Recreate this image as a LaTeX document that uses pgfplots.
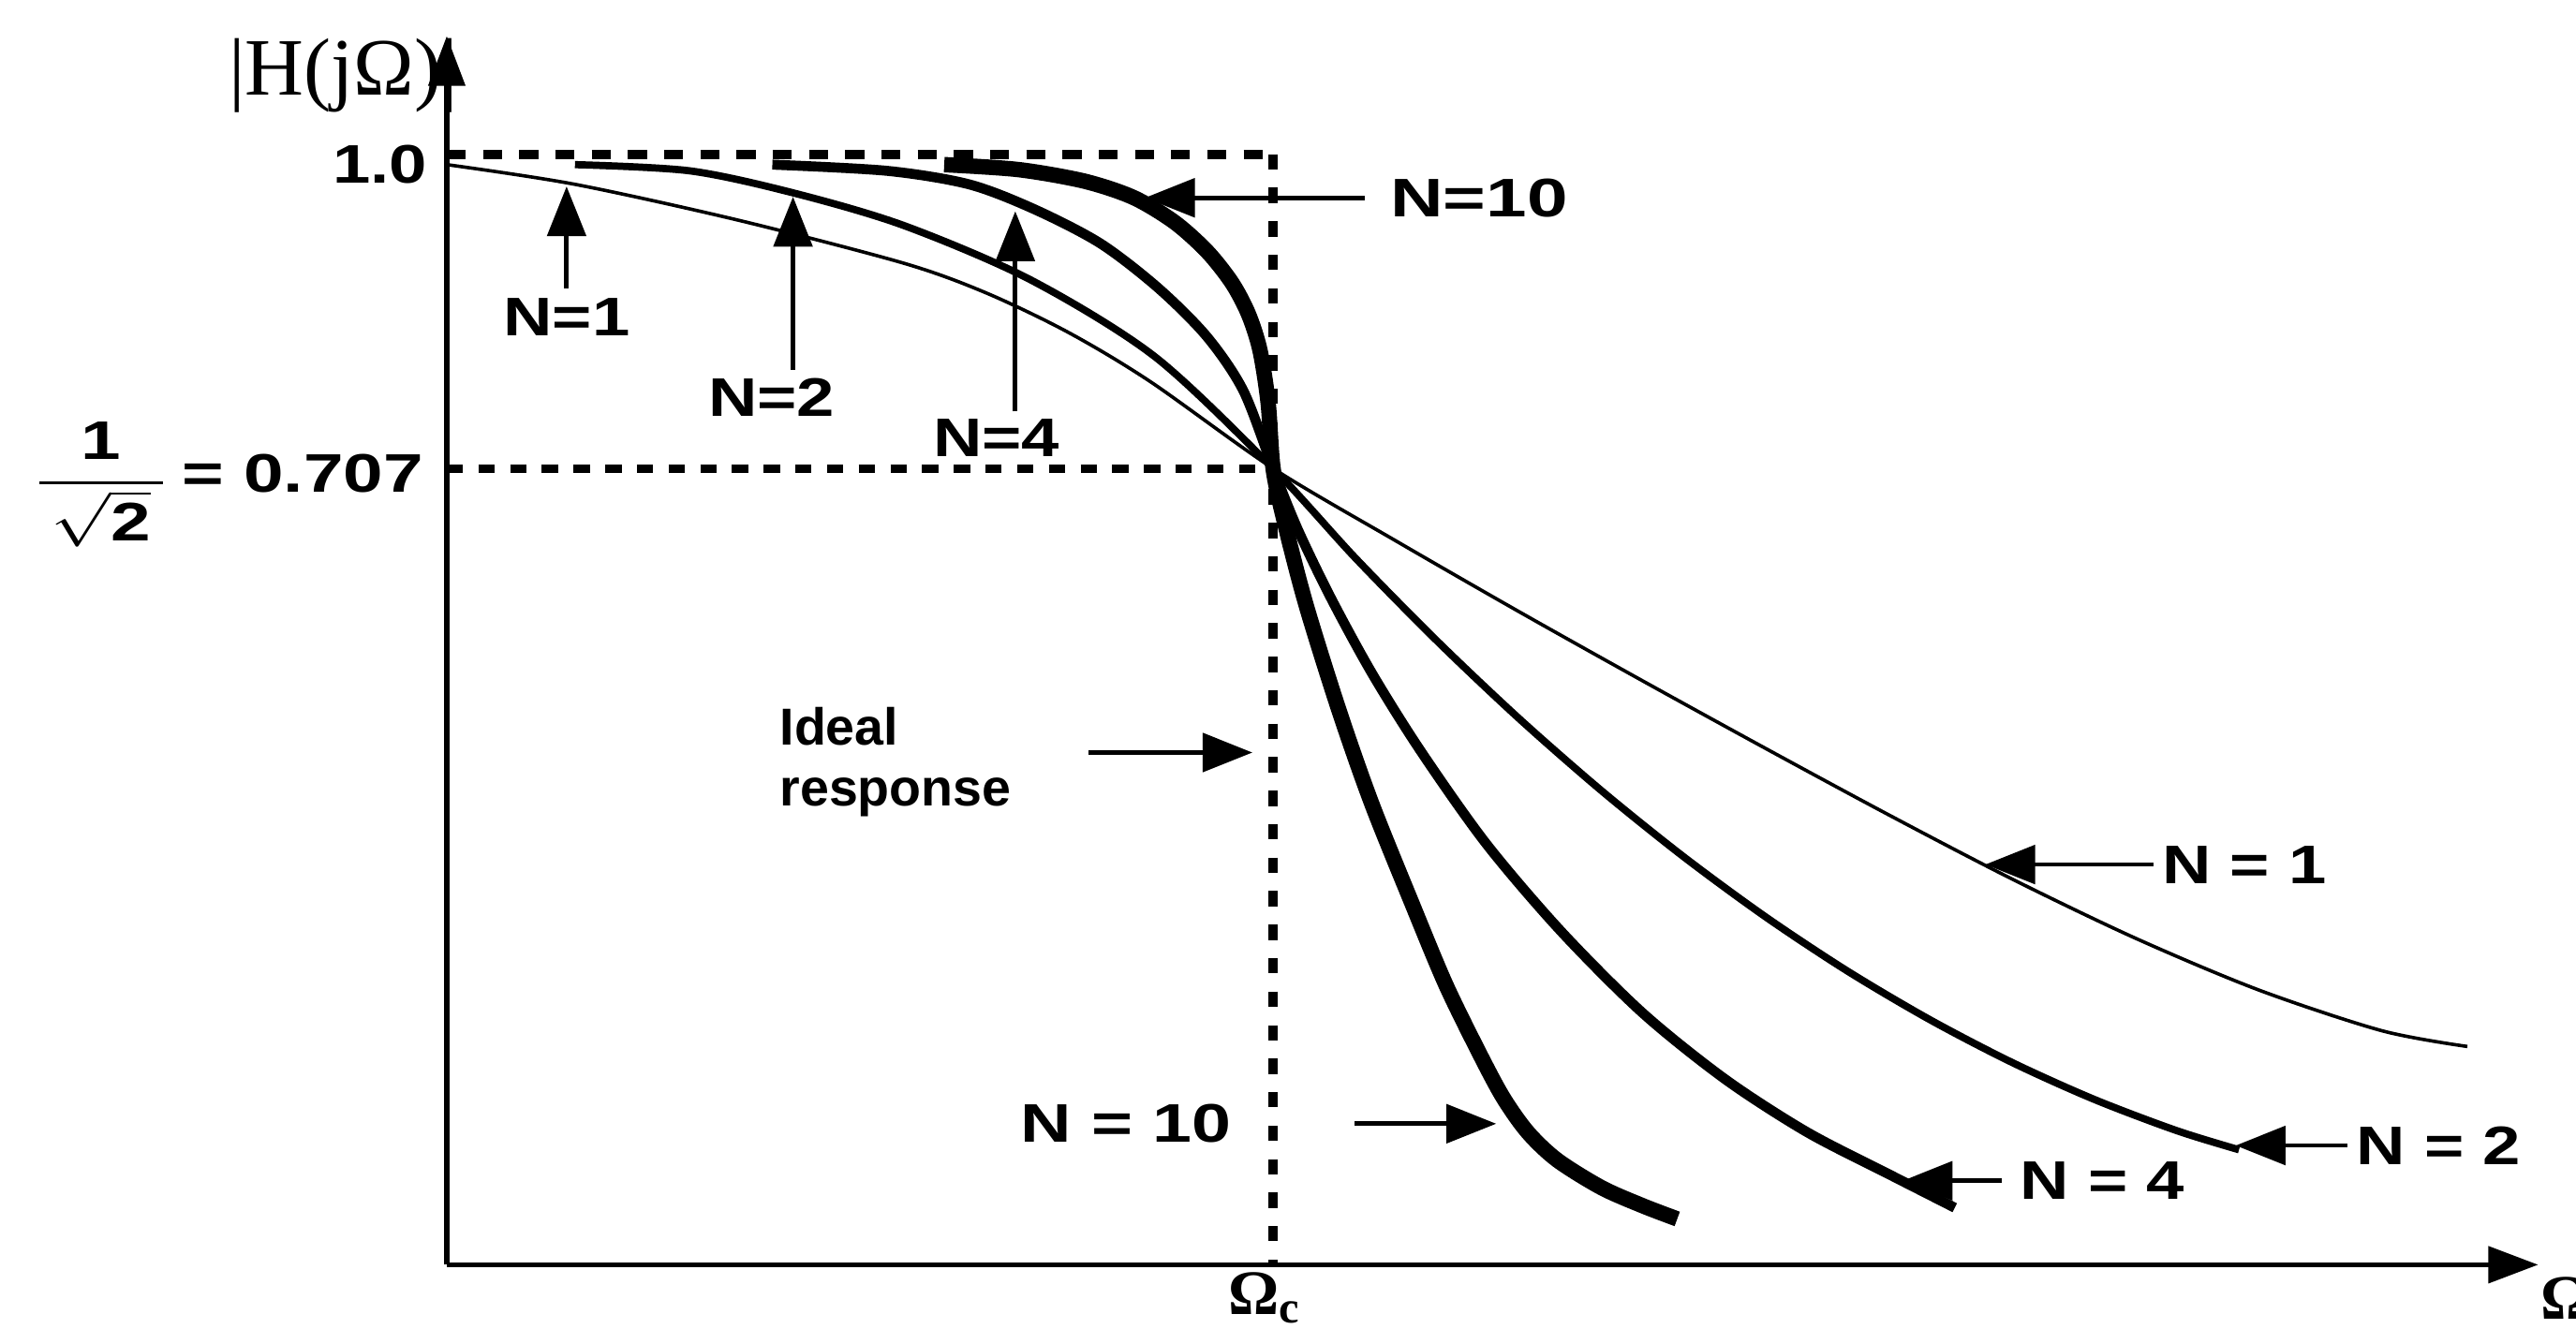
\documentclass[border=0pt]{standalone}
\usepackage{pgfplots}
\pgfplotsset{compat=1.18}
\usepackage{amsmath}
\usepackage{graphicx}
\usepackage{fontspec}
\setmainfont{Liberation Sans}
\newfontfamily\serif{Liberation Serif}
\usetikzlibrary{arrows.meta}
\newcommand\wide[1]{\scalebox{1.25}[1]{#1}}

% data: Omega/Omega_c versus |H(j Omega)|
\pgfplotstableread{
x y
0.0000 1.0000
0.1551 0.9810
0.3539 0.9462
0.5527 0.9050
0.6521 0.8765
0.7515 0.8385
0.8509 0.7910
1.0000 0.7070
1.1491 0.6369
1.2982 0.5686
1.4473 0.5021
1.5964 0.4368
1.7455 0.3727
1.8946 0.3109
2.0437 0.2539
2.1928 0.2040
2.3419 0.1647
2.4453 0.1495
}\nOne
\pgfplotstableread{
x y
0.1551 1.0000
0.2942 0.9940
0.4195 0.9727
0.5527 0.9414
0.7058 0.8892
0.8569 0.8148
1.0000 0.7070
1.0994 0.6208
1.1988 0.5403
1.2982 0.4654
1.3976 0.3961
1.4970 0.3324
1.5964 0.2743
1.6958 0.2219
1.7952 0.1752
1.8946 0.1340
1.9940 0.0984
2.0934 0.0684
2.1690 0.0499
}\nTwo
\pgfplotstableread{
x y
0.394 1.000
0.533 0.994
0.632 0.981
0.711 0.957
0.791 0.924
0.861 0.881
0.920 0.834
0.964 0.782
1.000 0.707
1.030 0.648
1.070 0.582
1.120 0.509
1.179 0.434
1.258 0.345
1.348 0.261
1.447 0.182
1.547 0.118
1.646 0.067
1.746 0.026
1.825 -0.006
}\nFour
\pgfplotstableread{
x y
0.6020 1.0000
0.6918 0.9952
0.7714 0.9841
0.8310 0.9683
0.8807 0.9445
0.9205 0.9160
0.9503 0.8859
0.9702 0.8558
0.9841 0.8210
0.9940 0.7703
1.0000 0.7070
1.0139 0.6548
1.0398 0.5756
1.0795 0.4743
1.1193 0.3839
1.1690 0.2857
1.2087 0.2097
1.2485 0.1448
1.2783 0.1004
1.3082 0.0668
1.3439 0.0399
1.3976 0.0133
1.4473 -0.0041
1.4891 -0.0168
}\nTen

\tikzset{ann/.style={line width=1pt, -{Triangle[length=11pt,width=8.5pt]}},
  lab/.style={font=\bfseries\fontsize{12}{14}\selectfont, inner sep=0pt}}

\begin{document}
\begin{tikzpicture}
\useasboundingbox (-3.469,-0.497) rectangle (16.531,9.821);
\begin{axis}[
  at={(0,0)}, anchor=south west,
  scale only axis, width=16.237cm, height=9.541cm,
  xmin=0, xmax=2.531, ymin=-0.061, ymax=1.124,
  axis lines=left,
  axis line style={line width=1.1pt},
  x axis line style={-{Triangle[length=11pt,width=8pt]}},
  y axis line style={-{Triangle[length=11pt,width=8pt]}},
  xtick={1},
  xticklabels={{\serif\bfseries\fontsize{14}{16}\selectfont Ω\raisebox{-0.3ex}{\fontsize{10}{11}\selectfont c}}},
  xticklabel style={yshift=4pt, xshift=-2pt},
  ytick={0.707,1.0},
  yticklabels={{},{\wide{\textbf{1.0}}}},
  yticklabel style={font=\fontsize{12}{14}\selectfont, inner sep=2pt},
  tick style={draw=none},
  clip=false,
]
\addplot[line width=0.75pt, smooth, tension=0.5] table {\nOne};
\addplot[line width=1.6pt, smooth, tension=0.5] table {\nTwo};
\addplot[line width=2.2pt, smooth, tension=0.5] table {\nFour};
\addplot[line width=3.4pt, smooth, tension=0.5] table {\nTen};
% ideal response
\addplot[line width=2pt, dash pattern=on 4.2pt off 3.8pt] coordinates {(0,1.010) (1,1.010)};
\addplot[line width=2.2pt, dash pattern=on 3.4pt off 4pt] coordinates {(1,1.010) (1,-0.061)};
\draw[line width=1.9pt, dash pattern=on 3.6pt off 3.4pt] (axis cs:0,0.707) -- (axis cs:1,0.707);

% 0.707 tick label
\node[font=\fontsize{12}{14}\selectfont, anchor=east, inner sep=2pt, yshift=-3.6pt, xshift=-3pt] at (axis cs:0,0.707)
  {\scalebox{1.32}[1]{\raisebox{-1pt}{$\dfrac{\textbf{1}}{\,\sqrt{\textbf{2}}\,}$}\,\textbf{=}\;\textbf{0.707}}};

% axis labels
\node[font=\serif\fontsize{18}{20}\selectfont] at (rel axis cs:-0.0495,0.968) {|H(jΩ)|};
\node[font=\serif\bfseries\fontsize{14}{16}\selectfont, anchor=west, inner sep=0pt] at (axis cs:2.533,-0.093) {Ω};

% top-left annotations
\draw[ann] (axis cs:0.145,0.881) -- (axis cs:0.145,0.979);
\node[lab, anchor=north] at (axis cs:0.145,0.872) {\wide{N=1}};
\draw[ann] (axis cs:0.419,0.802) -- (axis cs:0.419,0.969);
\node[lab, anchor=north] at (axis cs:0.393,0.795) {\wide{N=2}};
\draw[ann] (axis cs:0.688,0.762) -- (axis cs:0.688,0.955);
\node[lab, anchor=north] at (axis cs:0.665,0.755) {\wide{N=4}};
\draw[ann] (axis cs:1.111,0.968) -- (axis cs:0.845,0.968);
\node[lab, anchor=west] at (axis cs:1.141,0.968) {\scalebox{1.35}[1]{N=10}};

% ideal response
\node[font=\fontsize{11.5}{13.5}\selectfont\bfseries, align=left, anchor=west, inner sep=0pt] at (axis cs:0.402,0.424) {Ideal\\response};
\draw[ann] (axis cs:0.777,0.433) -- (axis cs:0.975,0.433);

% bottom-right annotations
\draw[ann] (axis cs:2.065,0.325) -- (axis cs:1.862,0.325);
\node[lab, anchor=west] at (axis cs:2.075,0.325) {\wide{N = 1}};
\draw[ann] (axis cs:2.300,0.054) -- (axis cs:2.165,0.054);
\node[lab, anchor=west] at (axis cs:2.310,0.054) {\wide{N = 2}};
\draw[ann] (axis cs:1.882,0.020) -- (axis cs:1.762,0.020);
\node[lab, anchor=west] at (axis cs:1.903,0.020) {\wide{N = 4}};
\draw[ann] (axis cs:1.099,0.075) -- (axis cs:1.270,0.075);
\node[lab, anchor=east] at (axis cs:0.950,0.075) {\scalebox{1.3}[1]{N = 10}};
\end{axis}
\end{tikzpicture}
\end{document}
